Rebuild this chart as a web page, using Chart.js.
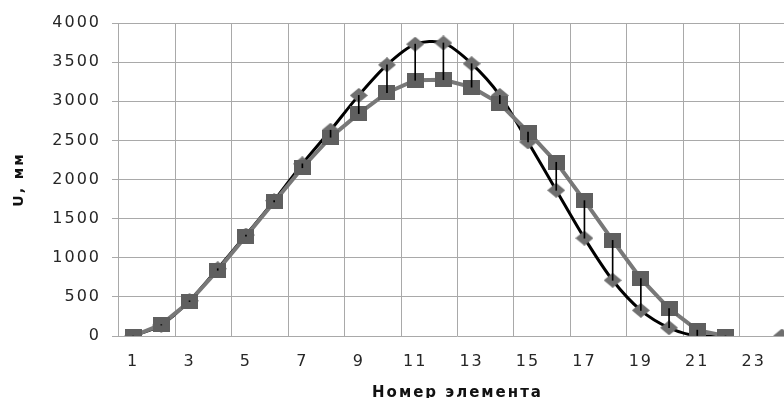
<!DOCTYPE html>
<html>
<head>
<meta charset="utf-8">
<script src="https://cdn.jsdelivr.net/npm/chart.js@4"></script>
<style>
html, body { margin: 0; padding: 0; overflow: hidden; background: #fff; width: 784px; height: 398px; }
#wrap { width: 806px; height: 406px; position: relative; }
</style>
</head>
<body>
<div id="wrap"><canvas id="c"></canvas></div>
<script>
const categories = ['1','2','3','4','5','6','7','8','9','10','11','12','13','14','15','16','17','18','19','20','21','22','23','24'];
const seriesDiamond = [0, 140, 450, 860, 1290, 1730, 2200, 2630, 3075, 3465, 3730, 3745, 3480, 3075, 2480, 1862, 1250, 712, 328, 105, 0, 0, null, 0];
const seriesSquare = [0, 145, 440, 840, 1275, 1713, 2150, 2540, 2842, 3110, 3268, 3275, 3180, 2970, 2607, 2220, 1730, 1222, 733, 350, 75, 0, null, null];
const yTicks = [0, 500, 1000, 1500, 2000, 2500, 3000, 3500, 4000];
const xTitle = 'Номер элемента';
const yTitle = 'U, мм';

function makeMarker(w, h, color, shape) {
  const cv = document.createElement('canvas');
  cv.width = w; cv.height = h;
  const g = cv.getContext('2d');
  g.fillStyle = color;
  if (shape === 'rect') {
    g.fillRect(0, 0, w, h);
  } else {
    g.beginPath();
    g.moveTo(w / 2, 0); g.lineTo(w, h / 2); g.lineTo(w / 2, h); g.lineTo(0, h / 2);
    g.closePath(); g.fill();
  }
  return cv;
}
const squareImg = makeMarker(17, 15, '#5f5f5f', 'rect');
const diamondImg = makeMarker(18, 15, '#6f6f6f', 'diamond');

const highLow = categories.map((_, i) => {
  const a = seriesDiamond[i], b = seriesSquare[i];
  if (a == null || b == null) return null;
  return [Math.min(a, b), Math.max(a, b)];
});

const LS = '2px';
const spacing = {
  id: 'spacing',
  beforeUpdate(chart) { chart.ctx.letterSpacing = LS; },
  beforeLayout(chart) { chart.ctx.letterSpacing = LS; },
  beforeDraw(chart) { chart.ctx.letterSpacing = LS; }
};

const gridColor = '#a9a9a9';
const textColor = '#262626';

new Chart(document.getElementById('c'), {
  data: {
    labels: categories,
    datasets: [
      {
        type: 'bar', data: highLow, backgroundColor: '#000', barThickness: 1,
        order: 0
      },
      {
        type: 'line', data: seriesSquare, borderColor: '#787878', borderWidth: 4,
        tension: 0, pointStyle: squareImg, pointRadius: 6, order: 1, spanGaps: false
      },
      {
        type: 'line', data: seriesDiamond, borderColor: '#000000', borderWidth: 3,
        tension: 0.3, pointStyle: diamondImg, pointRadius: 6, order: 2, spanGaps: false
      }
    ]
  },
  options: {
    responsive: true, maintainAspectRatio: false, animation: false,
    layout: { padding: { top: 23, right: 4, left: 0, bottom: 0 } },
    plugins: { legend: { display: false }, tooltip: { enabled: false } },
    scales: {
      x: {
        type: 'category', offset: true,
        grid: {
          offset: true, drawTicks: false,
          color: (ctx) => (ctx.index % 2 === 0 ? gridColor : 'rgba(0,0,0,0)')
        },
        border: { display: false },
        ticks: {
          autoSkip: false, maxRotation: 0, padding: 16, color: textColor,
          font: { family: 'DejaVu Sans', size: 16 },
          callback: (v, i) => (i % 2 === 0 ? categories[i] : '')
        },
        title: {
          display: true, text: xTitle, color: '#111',
          font: { family: 'DejaVu Sans', size: 15, weight: 'bold' },
          padding: { top: 4, bottom: 4 }
        },
        afterFit: (s) => { s.height = 70; }
      },
      y: {
        min: 0, max: 4000,
        afterBuildTicks: (s) => { s.ticks = yTicks.map(v => ({ value: v })); },
        grid: { color: gridColor, tickLength: 7 },
        border: { display: false },
        ticks: {
          padding: 11, color: textColor,
          font: { family: 'DejaVu Sans', size: 16 },
          callback: (v) => String(v)
        },
        title: {
          display: true, text: yTitle, color: '#111',
          font: { family: 'DejaVu Sans', size: 14, weight: 'bold' },
          padding: { top: 11, bottom: 0 }
        },
        afterFit: (s) => { s.width = 119; }
      }
    }
  },
  plugins: [spacing]
});
</script>
</body>
</html>
